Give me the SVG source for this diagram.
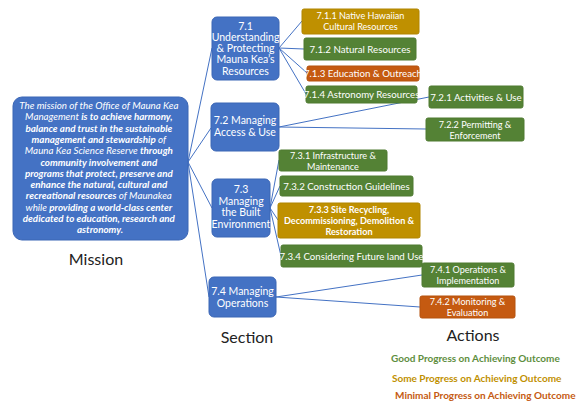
<svg xmlns="http://www.w3.org/2000/svg" width="578" height="402" viewBox="0 0 578 402">
<style>
.bg{fill:#ffffff}
.sec{fill:#4472C4;stroke:#3B66B5;stroke-width:1}
.g{fill:#548235;stroke:#4E7A31;stroke-width:1}
.y{fill:#BF9000;stroke:#B08500;stroke-width:1}
.o{fill:#C55A11;stroke:#B5520F;stroke-width:1}
.t{font-family:Lato,"Open Sans",sans-serif;fill:#ffffff;text-anchor:middle}
.st{font-size:10.5px}
.at{font-size:9.7px}
.at2{font-size:9.1px}
.m{font-family:Lato,"Open Sans",sans-serif;fill:#ffffff;text-anchor:middle;font-size:9.8px;font-style:italic}
.b{font-weight:bold}
.lbl{font-family:Lato,"Open Sans",sans-serif;fill:#222222;text-anchor:middle;font-size:16px}
.lg{font-family:Lato,"Open Sans",sans-serif;font-weight:bold;font-size:10px}
.c{stroke:#4472C4;stroke-width:1;fill:none}
</style>
<rect class="bg" x="0" y="0" width="578" height="402"/>
<g id="connectors">
<line class="c" x1="188" y1="162" x2="212" y2="48"/>
<line class="c" x1="188" y1="162" x2="211" y2="128"/>
<line class="c" x1="188" y1="162" x2="212" y2="208"/>
<line class="c" x1="188" y1="162" x2="209" y2="297"/>
<line class="c" x1="279" y1="48" x2="302" y2="21"/>
<line class="c" x1="279" y1="48" x2="304" y2="49"/>
<line class="c" x1="279" y1="48" x2="307" y2="73"/>
<line class="c" x1="279" y1="48" x2="306" y2="94"/>
<line class="c" x1="279" y1="127" x2="429" y2="97"/>
<line class="c" x1="279" y1="127" x2="426" y2="129"/>
<line class="c" x1="270" y1="208" x2="279" y2="160"/>
<line class="c" x1="270" y1="208" x2="280" y2="186"/>
<line class="c" x1="270" y1="208" x2="278" y2="220"/>
<line class="c" x1="270" y1="208" x2="281" y2="256"/>
<line class="c" x1="276" y1="297" x2="422" y2="275"/>
<line class="c" x1="276" y1="297" x2="420" y2="307"/>
</g>
<g id="mission">
<rect class="sec" x="13" y="97" width="175" height="143" rx="9"/>
<text class="m" x="100">
<tspan x="100" y="109">The mission of the Office of Mauna Kea</tspan>
<tspan x="100" y="120.3">Management <tspan class="b">is to achieve harmony,</tspan></tspan>
<tspan x="100" y="131.6" class="b">balance and trust in the sustainable</tspan>
<tspan x="100" y="142.9"><tspan class="b">management and stewardship</tspan> of</tspan>
<tspan x="100" y="154.2">Mauna Kea Science Reserve <tspan class="b">through</tspan></tspan>
<tspan x="100" y="165.5" class="b">community involvement and</tspan>
<tspan x="100" y="176.8" class="b">programs that protect, preserve and</tspan>
<tspan x="100" y="188.1" class="b">enhance the natural, cultural and</tspan>
<tspan x="100" y="199.4"><tspan class="b">recreational resources</tspan> of Maunakea</tspan>
<tspan x="100" y="210.7">while <tspan class="b">providing a world-class center</tspan></tspan>
<tspan x="100" y="222" class="b">dedicated to education, research and</tspan>
<tspan x="100" y="233.3" class="b">astronomy.</tspan>
</text>
</g>
<g id="s71">
<rect class="sec" x="212" y="17" width="67" height="63" rx="5"/>
<text class="t st"><tspan x="245.5" y="30">7.1</tspan><tspan x="245.5" y="41">Understanding</tspan><tspan x="245.5" y="52">&amp; Protecting</tspan><tspan x="245.5" y="63">Mauna Kea’s</tspan><tspan x="245.5" y="74.5">Resources</tspan></text>
</g>
<g id="s72">
<rect class="sec" x="211" y="103" width="68" height="48" rx="5"/>
<text class="t st"><tspan x="245" y="124">7.2 Managing</tspan><tspan x="245" y="136">Access &amp; Use</tspan></text>
</g>
<g id="s73">
<rect class="sec" x="212" y="179" width="58" height="58" rx="5"/>
<text class="t st"><tspan x="241" y="193">7.3</tspan><tspan x="241" y="204.5">Managing</tspan><tspan x="241" y="216">the Built</tspan><tspan x="241" y="227.5">Environment</tspan></text>
</g>
<g id="s74">
<rect class="sec" x="209" y="277" width="67" height="40" rx="5"/>
<text class="t st"><tspan x="242.5" y="295">7.4 Managing</tspan><tspan x="242.5" y="306.5">Operations</tspan></text>
</g>
<g id="a711">
<rect class="y" x="302" y="9" width="117" height="25" rx="2"/>
<text class="t at2"><tspan x="360.5" y="19">7.1.1 Native Hawaiian</tspan><tspan x="360.5" y="30">Cultural Resources</tspan></text>
</g>
<g id="a712">
<rect class="g" x="304" y="38" width="112" height="22" rx="2"/>
<text class="t at" x="360" y="52.5">7.1.2 Natural Resources</text>
</g>
<g id="a713">
<rect class="o" x="307" y="66" width="112" height="15" rx="2"/>
<text class="t at" x="363" y="76.5">7.1.3 Education &amp; Outreach</text>
</g>
<g id="a714">
<rect class="g" x="306" y="86" width="111" height="17" rx="2"/>
<text class="t at" x="361.5" y="98">7.1.4 Astronomy Resources</text>
</g>
<g id="a721">
<rect class="g" x="429" y="86" width="94" height="22" rx="2"/>
<text class="t at" x="476" y="100.5">7.2.1 Activities &amp; Use</text>
</g>
<g id="a722">
<rect class="g" x="426" y="118" width="98" height="23" rx="2"/>
<text class="t at2"><tspan x="475" y="127.5">7.2.2 Permitting &amp;</tspan><tspan x="475" y="138.5">Enforcement</tspan></text>
</g>
<g id="a731">
<rect class="g" x="279" y="150" width="108" height="21" rx="2"/>
<text class="t at2"><tspan x="333" y="158.5">7.3.1 Infrastructure &amp;</tspan><tspan x="333" y="169.5">Maintenance</tspan></text>
</g>
<g id="a732">
<rect class="g" x="280" y="176" width="133" height="20" rx="2"/>
<text class="t at" x="346.5" y="189.5">7.3.2 Construction Guidelines</text>
</g>
<g id="a733">
<rect class="y" x="278" y="203" width="142" height="35" rx="2"/>
<text class="t at2 b"><tspan x="349" y="213">7.3.3 Site Recycling,</tspan><tspan x="349" y="224">Decommissioning,  Demolition &amp;</tspan><tspan x="349" y="235">Restoration</tspan></text>
</g>
<g id="a734">
<rect class="g" x="281" y="245" width="141" height="22" rx="2"/>
<text class="t at" x="351.5" y="259.5">7.3.4 Considering Future land Use</text>
</g>
<g id="a741">
<rect class="g" x="422" y="263" width="92" height="24" rx="2"/>
<text class="t at2"><tspan x="468" y="272.5">7.4.1 Operations &amp;</tspan><tspan x="468" y="283.5">Implementation</tspan></text>
</g>
<g id="a742">
<rect class="o" x="420" y="296" width="95" height="22" rx="2"/>
<text class="t at2"><tspan x="467.5" y="304.5">7.4.2 Monitoring &amp;</tspan><tspan x="467.5" y="315.5">Evaluation</tspan></text>
</g>
<g id="labels">
<text class="lbl" x="96" y="265">Mission</text>
<text class="lbl" x="247" y="343">Section</text>
<text class="lbl" x="473" y="341">Actions</text>
<text class="lg" x="391" y="362" fill="#5E8E3E">Good Progress on Achieving Outcome</text>
<text class="lg" x="392" y="382" fill="#BF9000">Some Progress on Achieving Outcome</text>
<text class="lg" x="395" y="399" fill="#C55A11">Minimal Progress on Achieving Outcome</text>
</g>
</svg>
